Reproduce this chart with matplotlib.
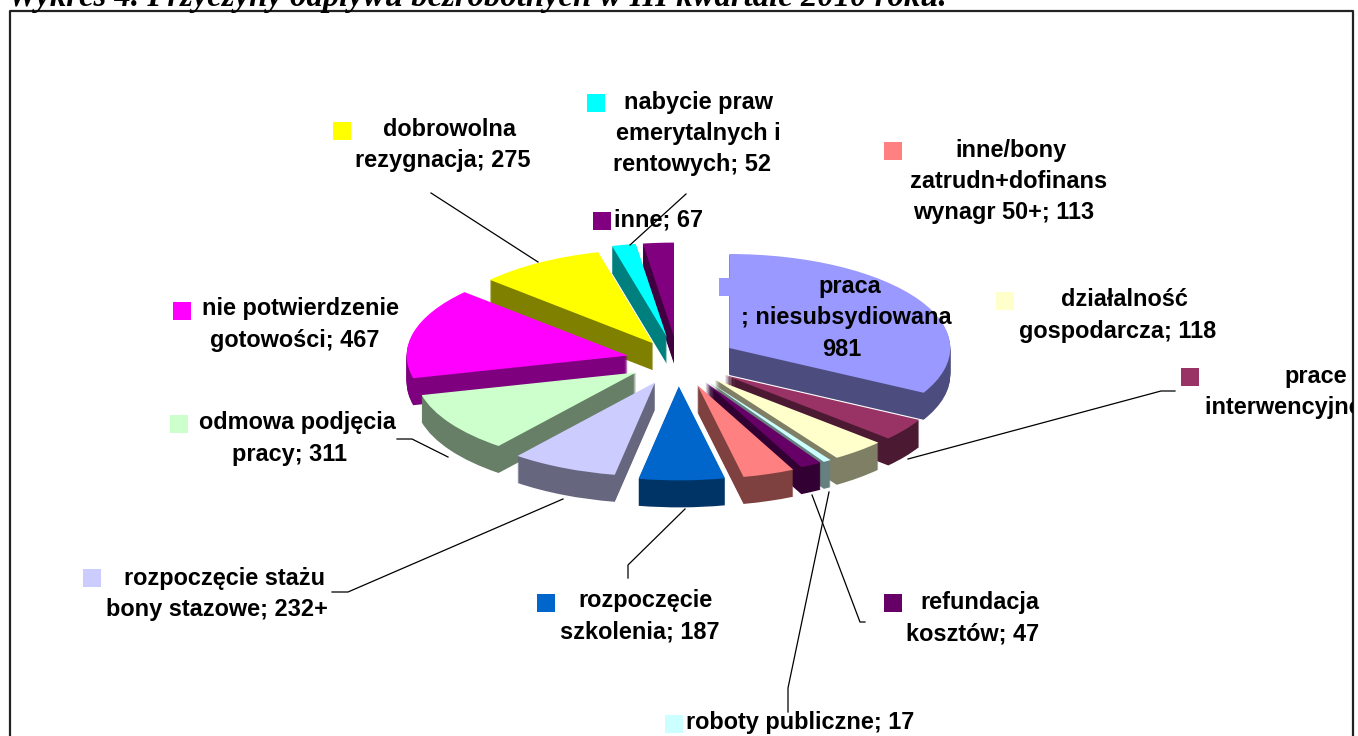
import matplotlib
matplotlib.use('Agg')
import matplotlib.pyplot as plt
import numpy as np

W, H = 1358, 736

title = 'Wykres 4. Przyczyny odpływu bezrobotnych w III kwartale 2010 roku.'

# clockwise from the top of the pie; interwencyjne is cut off in the picture, 115 is read from the slice
names = ['praca niesubsydiowana', 'prace interwencyjne', 'działalność gospodarcza', 'roboty publiczne',
         'refundacja kosztów', 'inne/bony', 'rozpoczęcie szkolenia', 'rozpoczęcie stażu',
         'odmowa podjęcia pracy', 'nie potwierdzenie gotowości', 'dobrowolna rezygnacja',
         'nabycie praw', 'inne']
values = [981, 115, 118, 17, 47, 113, 187, 232, 311, 467, 275, 52, 67]
top_colors = ['#9999ff', '#993366', '#ffffcc', '#ccffff', '#660066', '#ff8080', '#0066cc',
              '#ccccff', '#ccffcc', '#ff00ff', '#ffff00', '#00ffff', '#800080']
side_colors = ['#4c4c7f', '#4c1933', '#7f7f66', '#667f7f', '#330033', '#7f4040', '#003366',
               '#66667f', '#667f66', '#7f007f', '#7f7f00', '#007f7f', '#400040']

label_lines = [
    ['praca', '; niesubsydiowana', '981'],
    ['prace', 'interwencyjne; 115'],
    ['działalność', 'gospodarcza; 118'],
    ['roboty publiczne; 17'],
    ['refundacja', 'kosztów; 47'],
    ['inne/bony', 'zatrudn+dofinans', 'wynagr 50+; 113'],
    ['rozpoczęcie', 'szkolenia; 187'],
    ['rozpoczęcie stażu', 'bony stazowe; 232+'],
    ['odmowa podjęcia', 'pracy; 311'],
    ['nie potwierdzenie', 'gotowości; 467'],
    ['dobrowolna', 'rezygnacja; 275'],
    ['nabycie praw', 'emerytalnych i', 'rentowych; 52'],
    ['inne; 67'],
]

# layout in picture pixels
cx, cy, rx, ry = 678, 361, 221, 94
depth = 27
explode = [0.27, 0.26, 0.257, 0.26, 0.26, 0.27, 0.27, 0.25, 0.225, 0.235, 0.22, 0.26, 0.26]
line_x = [[850, 846, 842], [1316, 1205], [1124, 1118], [800], [980, 973], [1011, 1009, 1004],
          [645, 640], [224, 217], [297, 290], [300, 295], [449, 443], [698, 698, 692], [659]]
first_y = [286, 376, 300, 723, 603, 150, 601, 578, 423, 309, 129, 102, 220]
swatch = [(719, 278), (1181, 368), (996, 292), (665, 715), (884, 594), (884, 142), (537, 594),
          (83, 569), (170, 415), (173, 302), (333, 122), (587, 94), (593, 212)]
leaders = [
    [(1175, 391), (1161, 391), (908, 459)],
    [(865, 622), (860, 622), (812, 495)],
    [(788, 712), (788, 688), (829, 492)],
    [(628, 578), (628, 565), (685, 509)],
    [(332, 592), (348, 592), (563, 499)],
    [(397, 439), (412, 439), (448, 457)],
    [(431, 193), (538, 262)],
    [(630, 245), (686, 194)],
]

fig = plt.figure(figsize=(W / 100, H / 100), dpi=100, facecolor='white')
ax = fig.add_axes([0, 0, 1, 1])

# mid angle decides which slice is further back, back ones get drawn first
fr = np.array(values) / sum(values)
mid = np.radians(90 - 360 * (np.cumsum(fr) - fr / 2))
order = np.argsort(np.argsort(-np.sin(mid)))

for k in range(depth, -1, -1):
    wedges, _ = ax.pie(values, colors=side_colors if k else top_colors, startangle=90, counterclock=False,
                       explode=explode, center=(0, -k / ry), radius=1,
                       wedgeprops={'linewidth': 0})
    for i, w in enumerate(wedges):
        w.set_zorder(order[i] + 0.5 - k / (2 * depth))

ax.set_aspect('auto')
ax.set_xlim(-cx / rx, (W - cx) / rx)
ax.set_ylim((cy - H) / ry, cy / ry)
ax.axis('off')

# overlay in pixels, stops at the frame so the cut label gets clipped there
ov = fig.add_axes([0, 0, 1353 / W, 1], facecolor='none', zorder=5)
ov.set_xlim(0, 1353)
ov.set_ylim(H, 0)
ov.axis('off')

ov.plot([10, 10, 1353, 1353], [H, 11, 11, H], color='#222222', lw=1.6, clip_on=False)
ov.text(8, 6, title, family='Liberation Serif', weight='bold', style='italic', fontsize=23.6,
        va='baseline', ha='left', clip_on=False)

for pts in leaders:
    xs, ys = zip(*pts)
    ov.plot(xs, ys, color='black', lw=0.9, zorder=2)

for i in range(len(values)):
    sx, sy = swatch[i]
    ov.fill([sx, sx + 18, sx + 18, sx], [sy, sy, sy + 18, sy + 18], color=top_colors[i], lw=0, zorder=1)
    for j, line in enumerate(label_lines[i]):
        ov.text(line_x[i][j], first_y[i] + j * 31.5, line, family='Liberation Sans', weight='bold', fontsize=16.9,
                ha='left' if i == 1 and j == 1 else 'center', va='center', clip_on=True, zorder=3)

fig.savefig('out.png', dpi=100)
